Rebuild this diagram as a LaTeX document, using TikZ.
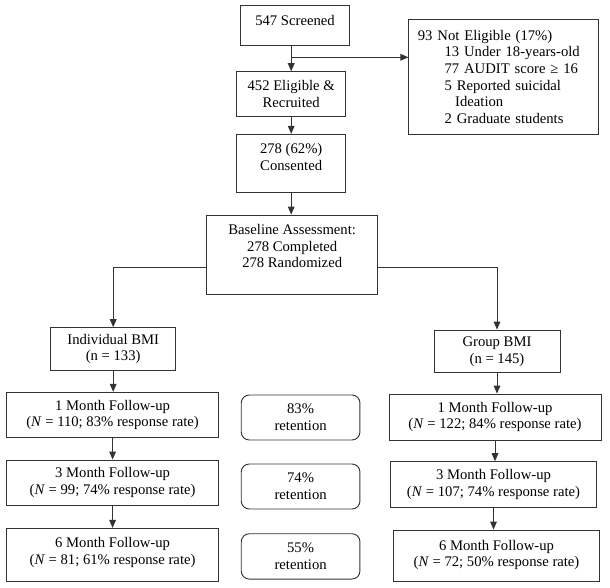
\documentclass[tikz,border=0pt]{standalone}
\usepackage{fontspec}
\setmainfont{Liberation Serif}
\usetikzlibrary{arrows.meta}

% extra depth under a text, so that it sits higher in its box
\newcommand{\padbelow}[1]{\rule[-#1]{0pt}{#1}}

\tikzset{
    box/.style={draw=black!80, line width=0.7pt, align=center, inner sep=2pt},
    retbox/.style={box, rounded corners=6pt},
    arr/.style={draw=black!80, line width=0.7pt, -{Triangle[length=6pt,width=5pt]}},
    every node/.style={font=\fontsize{11}{12.5}\selectfont}
}

\begin{document}
\begin{tikzpicture}[x=0.75pt,y=-0.75pt]
    \useasboundingbox (0,0) rectangle (610,588);

    % Screening and consent
    \node[box, minimum width=81.5pt, minimum height=29.5pt] (scr) at (295,25.4) {547 Screened\padbelow{8pt}};
    \node[box, text width=129pt, align=left, inner xsep=6.75pt, minimum height=86.25pt] (nel) at (503.9,76.8)
        {93 Not Eligible (17\%)\\
         \hspace*{20pt}13 Under 18-years-old\\
         \hspace*{20pt}77 AUDIT score ≥ 16\\
         \hspace*{20pt}5 Reported suicidal\\
         \hspace*{28pt}Ideation\\
         \hspace*{20pt}2 Graduate students};
    \node[box, minimum width=81.75pt, minimum height=33.75pt] (elig) at (291.2,94.2) {452 Eligible \&\\Recruited};
    \node[box, minimum width=81.75pt, minimum height=43.8pt] (cons) at (291.2,163.5) {278 (62\%)\\Consented\padbelow{10pt}};
    \node[box, minimum width=127.9pt, minimum height=59.5pt] (base) at (292.2,254.7)
        {Baseline Assessment:\\278 Completed\\278 Randomized\padbelow{13pt}};

    % Randomized groups
    \node[box, minimum width=93.7pt, minimum height=32pt] (ind) at (113.2,349) {Individual BMI\\(n = 133)};
    \node[box, minimum width=94.5pt, minimum height=32pt] (grp) at (497,351.4) {Group BMI\\(n = 145)};

    % Follow-ups, individual arm
    \node[box, minimum width=159pt, minimum height=34pt] (fuA) at (112.6,415) {1 Month Follow-up\\(\textit{N} = 110; 83\% response rate)};
    \node[box, minimum width=159pt, minimum height=33.75pt] (fuB) at (112.6,482.5) {3 Month Follow-up\\(\textit{N} = 99; 74\% response rate)};
    \node[box, minimum width=159pt, minimum height=39.5pt] (fuC) at (112.6,554.7) {6 Month Follow-up\\(\textit{N} = 81; 61\% response rate)\padbelow{5.5pt}};

    % Retention
    \node[retbox, minimum width=89pt, minimum height=33.75pt] (retA) at (300.6,417.5) {83\%\\retention};
    \node[retbox, minimum width=89pt, minimum height=33.75pt] (retB) at (300.6,486.5) {74\%\\retention};
    \node[retbox, minimum width=89pt, minimum height=34pt] (retC) at (300.6,556.4) {55\%\\retention};

    % Follow-ups, group arm
    \node[box, minimum width=159pt, minimum height=34.5pt] (fuD) at (495,417) {1 Month Follow-up\\(\textit{N} = 122; 84\% response rate)};
    \node[box, minimum width=155pt, minimum height=34.5pt] (fuE) at (493.5,484.7) {3 Month Follow-up\\(\textit{N} = 107; 74\% response rate)};
    \node[box, minimum width=155pt, minimum height=38.8pt] (fuF) at (496.5,555.9) {6 Month Follow-up\\(\textit{N} = 72; 50\% response rate)\padbelow{3.75pt}};

    % Connectors
    \coordinate (brk) at (291.2,57.3);
    \draw[arr] (scr.south -| elig.north) -- (elig.north);
    \draw[arr] (brk) -- (brk -| nel.west);
    \draw[arr] (elig) -- (cons);
    \draw[arr] (cons.south) -- (cons.south |- base.north);
    \draw[arr] (base.west) ++(0,13) -| (ind.north);
    \draw[arr] (base.east) ++(0,13) -| (grp.north);
    \draw[arr] (ind.south) -- (ind.south |- fuA.north);
    \draw[arr] (fuA) -- (fuB);
    \draw[arr] (fuB) -- (fuC);
    \draw[arr] (grp.south) -- (grp.south |- fuD.north);
    \draw[arr] (fuD.south) -- (fuD.south |- fuE.north);
    \draw[arr] (fuE.south) -- (fuE.south |- fuF.north);
\end{tikzpicture}
\end{document}
